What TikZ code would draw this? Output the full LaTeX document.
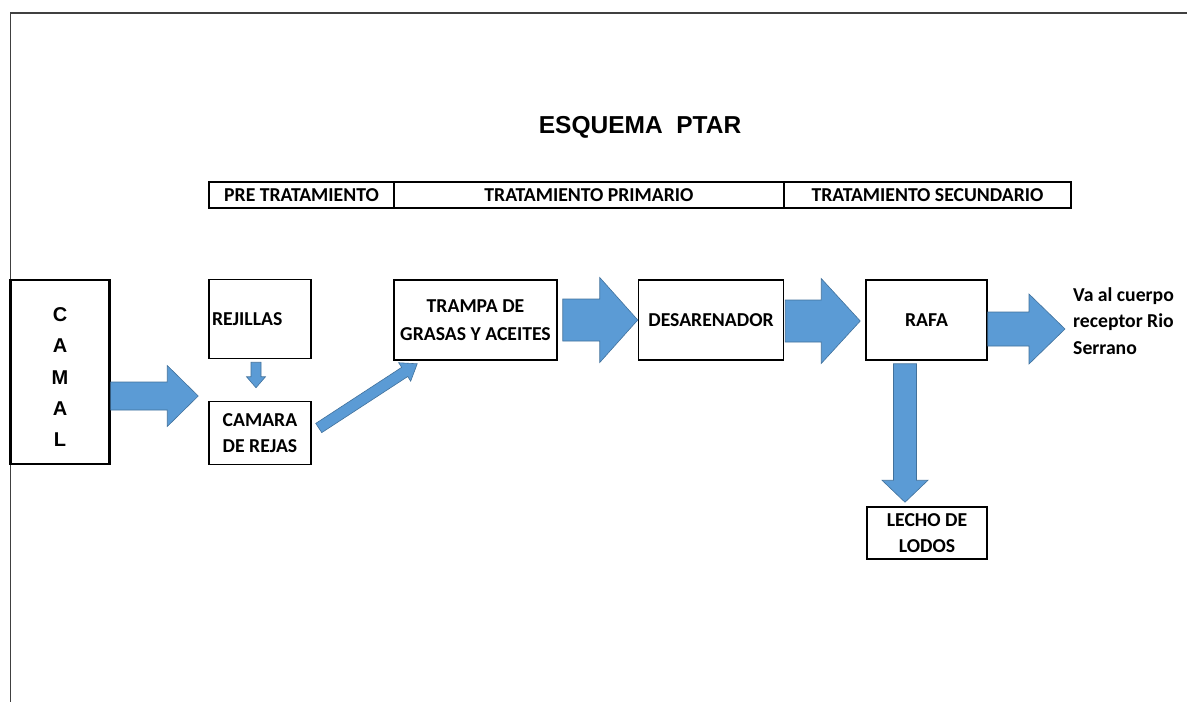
\documentclass[tikz,border=0pt]{standalone}
\usepackage{fontspec}
\setmainfont{Carlito}
\newfontfamily\arialfont{Liberation Sans}
\usepackage{tikz}
\usetikzlibrary{calc}
\definecolor{flowblue}{HTML}{5B9BD5}
\definecolor{flowedge}{HTML}{41719C}
\newcommand{\lbl}{\bfseries\fontsize{19.7}{26.5}\selectfont}
% tail, tip, half shaft, half head, head length
\newcommand{\flowarrow}[5]{%
  \coordinate (fah) at ($(#2)!#5!(#1)$);
  \path [flow] ($(#1)!#3!90:(#2)$) -- ($(fah)!#3!-90:(#1)$) -- ($(fah)!#4!-90:(#1)$)
    -- (#2) -- ($(fah)!#4!90:(#1)$) -- ($(fah)!#3!90:(#1)$) -- ($(#1)!#3!-90:(#2)$) -- cycle;}

\begin{document}
\begin{tikzpicture}[x=1pt, y=-1pt]
%\draw[very thin, color = gray](0, 0) grid[step=50] (1187, 702);
\tikzstyle{stage} = [draw, line width = 1.6pt, rectangle, minimum height = 26pt,
  inner sep = 0pt, font = \lbl];
\tikzstyle{block} = [draw, line width = 1.5pt, rectangle, align = center,
  inner sep = 0pt, font = \lbl];
\tikzstyle{flow} = [fill = flowblue, draw = flowedge, line width = 0.6pt]
\useasboundingbox (0, 0) rectangle (1187, 702);
\draw [black!75, line width = 1.5pt] (10.5, 702) -- (10.5, 13) -- (1187, 13);
\node at (640, 127) (title) {\arialfont\bfseries\fontsize{24.5}{28}\selectfont ESQUEMA~~PTAR};
\node [stage, minimum width = 185pt] at (301.5, 195) (pre) {PRE TRATAMIENTO};
\node [stage, minimum width = 390pt] at (589, 195) (pri) {TRATAMIENTO PRIMARIO};
\node [stage, minimum width = 287pt] at (927.5, 195) (sec) {TRATAMIENTO SECUNDARIO};
\node [block, line width = 2.2pt, minimum width = 99pt, minimum height = 184pt,
  font = \arialfont\bfseries\fontsize{20}{31.3}\selectfont] at (60, 372) (camal)
  {\raisebox{-6pt}[\height][\depth]{\begin{tabular}{@{}c@{}}C\\A\\M\\A\\L\end{tabular}}};
\node [block, text width = 96pt, align = left, inner xsep = 3pt,
  minimum height = 79pt] at (260, 319) (rejillas) {REJILLAS};
\node [block, minimum width = 102pt, minimum height = 63pt] at (260, 433) (camara)
  {CAMARA\\DE REJAS};
\node [block, minimum width = 163pt, minimum height = 80pt, font = \bfseries\fontsize{19.7}{28}\selectfont]
  at (475.5, 320) (trampa) {TRAMPA DE\\GRASAS Y ACEITES};
\node [block, minimum width = 145pt, minimum height = 80pt] at (711, 320) (desarenador)
  {DESARENADOR};
\node [block, minimum width = 121pt, minimum height = 80pt] at (926.5, 320) (rafa)
  {RAFA};
\node [block, minimum width = 120pt, minimum height = 52pt] at (927, 533) (lecho)
  {LECHO DE\\LODOS};
\node [anchor = west, align = left, inner sep = 0pt, font = \lbl] at (1073, 321) (rio)
  {Va al cuerpo\\receptor Rio\\Serrano};
\coordinate (c1) at ($(camal.east) + (0, 24)$);
\coordinate (c2) at ($(camara.west) + (-10, -37)$);
\coordinate (c3) at ($(rejillas.south) + (-4, 3)$);
\coordinate (c4) at ($(camara.north) + (-4, -13)$);
\coordinate (c5) at ($(camara.east) + (7, -5)$);
\coordinate (c6) at ($(trampa.south west) + (24, 3)$);
\coordinate (c7) at ($(trampa.east) + (5, 0)$);
\coordinate (c8) at ($(desarenador.west) + (0, 0)$);
\coordinate (c9) at ($(desarenador.east) + (1, 1)$);
\coordinate (c10) at ($(rafa.west) + (-5, 1)$);
\coordinate (c11) at ($(rafa.east) + (0, 9)$);
\coordinate (c12) at ($(rio.west) + (-8, 8)$);
\coordinate (c13) at ($(rafa.south) + (-21.5, 3)$);
\coordinate (c14) at ($(lecho.north) + (-22, -4)$);
\flowarrow{c1}{c2}{14pt}{30.5pt}{31pt}
\flowarrow{c3}{c4}{5pt}{9.5pt}{11pt}
\flowarrow{c5}{c6}{5.5pt}{11pt}{15pt}
\flowarrow{c7}{c8}{21pt}{42.5pt}{38pt}
\flowarrow{c9}{c10}{21pt}{42.5pt}{39pt}
\flowarrow{c11}{c12}{17pt}{35pt}{36pt}
\flowarrow{c13}{c14}{11.5pt}{23pt}{22pt}
\end{tikzpicture}
\end{document}
